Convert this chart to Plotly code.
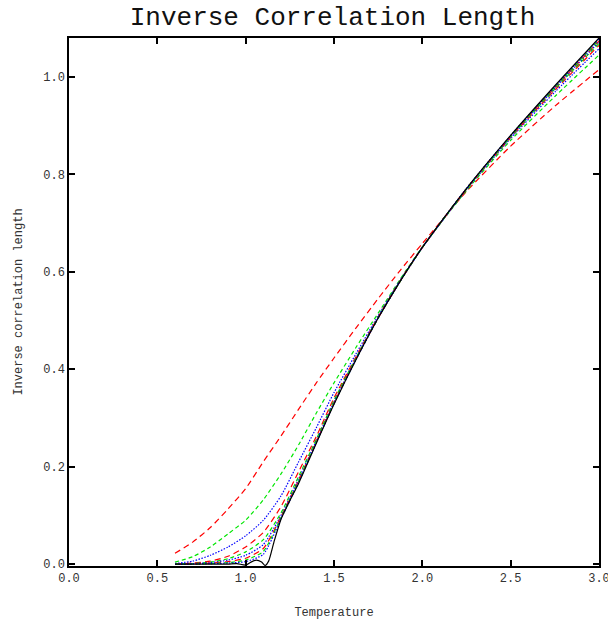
import plotly.graph_objects as go

# Temperature grid for the finite-size series
T = [0.6, 0.7, 0.8, 0.9, 1.0, 1.1, 1.2, 1.3, 1.4, 1.5, 1.625, 1.75, 1.875, 2.0, 2.25, 2.5, 2.75, 3.0]

red1 = [0.022, 0.045, 0.075, 0.113, 0.155, 0.21, 0.263, 0.318, 0.372, 0.423, 0.485, 0.545, 0.603, 0.658, 0.765, 0.858, 0.94, 1.015]
green1 = [0.004, 0.015, 0.035, 0.062, 0.09, 0.132, 0.185, 0.245, 0.31, 0.372, 0.445, 0.515, 0.585, 0.651, 0.767, 0.87, 0.96, 1.045]
blue1 = [0.001, 0.006, 0.018, 0.035, 0.058, 0.09, 0.14, 0.21, 0.28, 0.352, 0.432, 0.51, 0.583, 0.65, 0.769, 0.874, 0.969, 1.058]
red2 = [0.0, 0.002, 0.006, 0.016, 0.035, 0.065, 0.118, 0.19, 0.262, 0.341, 0.426, 0.507, 0.582, 0.65, 0.77, 0.876, 0.973, 1.065]
green2 = [0.0, 0.001, 0.004, 0.011, 0.025, 0.05, 0.105, 0.18, 0.256, 0.336, 0.424, 0.506, 0.581, 0.65, 0.77, 0.877, 0.975, 1.069]
blue2 = [0.0, 0.001, 0.003, 0.008, 0.018, 0.04, 0.1, 0.175, 0.253, 0.333, 0.423, 0.506, 0.581, 0.65, 0.771, 0.878, 0.977, 1.072]
red3 = [0.0, 0.0, 0.002, 0.005, 0.012, 0.032, 0.097, 0.172, 0.251, 0.331, 0.422, 0.505, 0.581, 0.65, 0.771, 0.879, 0.978, 1.074]
green3 = [0.0, 0.0, 0.001, 0.003, 0.008, 0.026, 0.095, 0.17, 0.25, 0.33, 0.421, 0.505, 0.581, 0.65, 0.771, 0.879, 0.979, 1.076]
blue3 = [0.0, 0.0, 0.001, 0.002, 0.005, 0.02, 0.093, 0.168, 0.249, 0.329, 0.42, 0.505, 0.581, 0.65, 0.771, 0.88, 0.98, 1.078]

# Limit (solid black) curve
T_black = [0.6, 0.7, 0.8, 0.9, 0.95, 1.0, 1.03, 1.06, 1.09, 1.11, 1.13, 1.16, 1.2, 1.25, 1.3,
           1.4, 1.5, 1.625, 1.75, 1.875, 2.0, 2.25, 2.5, 2.75, 3.0]
black = [0.0, 0.0, 0.0, 0.0, 0.001, -0.002, 0.004, 0.008, 0.004, -0.003, 0.006, 0.045, 0.092, 0.13, 0.166,
         0.248, 0.328, 0.42, 0.505, 0.581, 0.65, 0.771, 0.88, 0.982, 1.08]

x_ticks = [0.0, 0.5, 1.0, 1.5, 2.0, 2.5, 3.0]
y_ticks = [0.0, 0.2, 0.4, 0.6, 0.8, 1.0]

RED, GREEN, BLUE = "#ff0000", "#00e600", "#0000ff"
styles = [
    (red1, RED, "6px,4px"), (green1, GREEN, "4px,3px"), (blue1, BLUE, "1.5px,1.5px"),
    (red2, RED, "6px,4px"), (green2, GREEN, "4px,3px"), (blue2, BLUE, "1.5px,1.5px"),
    (red3, RED, "6px,4px"), (green3, GREEN, "4px,3px"), (blue3, BLUE, "1.5px,1.5px"),
]

fig = go.Figure()
for vals, col, dash in styles:
    fig.add_trace(go.Scatter(x=T, y=vals, mode="lines",
                             line=dict(color=col, width=1.2, dash=dash, shape="spline", smoothing=0.6),
                             showlegend=False))
fig.add_trace(go.Scatter(x=T_black, y=black, mode="lines",
                         line=dict(color="black", width=1.2, shape="spline", smoothing=0.6),
                         showlegend=False))

FONT = "Liberation Mono"
axis_common = dict(showline=True, linecolor="black", linewidth=1.5, mirror="ticks",
                   ticks="inside", ticklen=6, tickcolor="black", tickwidth=1.5,
                   showgrid=False, zeroline=False, tickformat=".1f", automargin=False,
                   ticklabeloverflow="allow",
                   tickfont=dict(family=FONT, size=12, color="#333"))

fig.update_layout(
    width=608, height=624,
    margin=dict(l=69, r=9, t=38, b=58),
    paper_bgcolor="white", plot_bgcolor="white",
    title=dict(text="Inverse Correlation Length", x=0.547, xanchor="center",
               y=0.974, yanchor="middle", yref="container",
               font=dict(family=FONT, size=26, color="#111")),
    xaxis=dict(range=[0, 3.0], tickvals=x_ticks,
               title=dict(text="Temperature", font=dict(family=FONT, size=12, color="#333"), standoff=22),
               **axis_common),
    yaxis=dict(range=[-0.004, 1.08], tickvals=y_ticks,
               title=dict(text="Inverse correlation length", font=dict(family=FONT, size=12, color="#333"), standoff=18),
               **axis_common),
)

fig.write_html("out.html")
